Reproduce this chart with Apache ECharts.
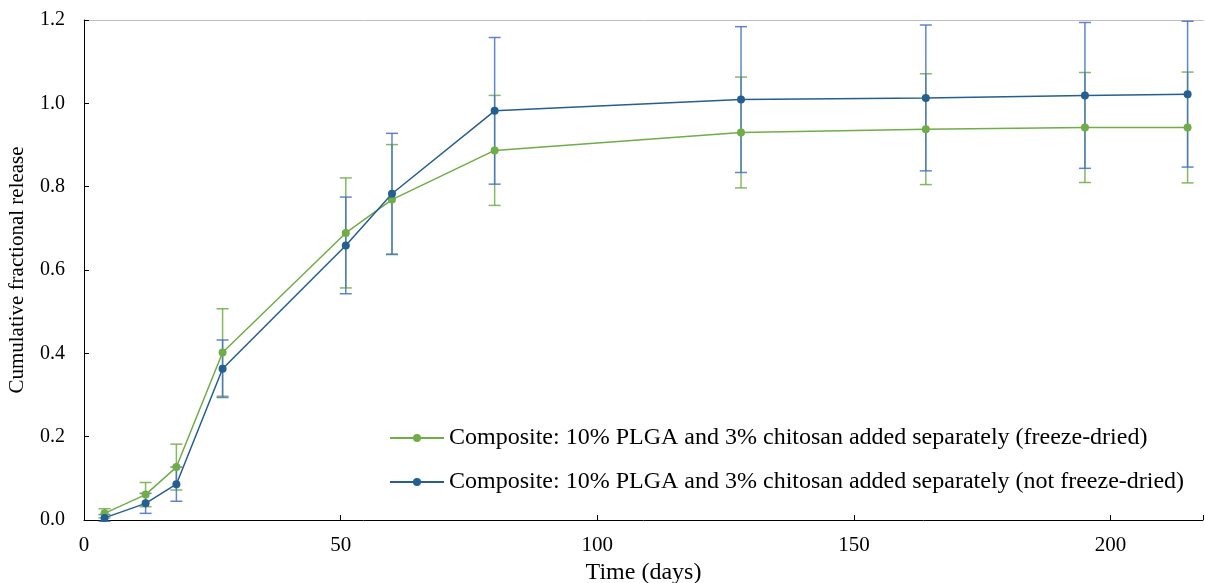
<!DOCTYPE html>
<html>
<head>
<meta charset="utf-8">
<script src="https://cdn.jsdelivr.net/npm/echarts@6/dist/echarts.min.js"></script>
<style>
  html, body { margin: 0; padding: 0; background: #fff; }
  #chart { width: 1205px; height: 583px; }
</style>
</head>
<body>
<div id="chart"></div>
<script>
// days of sampling
const days = [4, 12, 18, 27, 51, 60, 80, 128, 164, 195, 215];
// freeze-dried composite
const freezeDried = [0.016, 0.061, 0.127, 0.402, 0.689, 0.769, 0.887, 0.930, 0.938, 0.942, 0.942];
const freezeDriedErr = [0.011, 0.029, 0.055, 0.105, 0.132, 0.132, 0.132, 0.133, 0.133, 0.132, 0.133];
// not freeze-dried composite
const notFreezeDried = [0.005, 0.040, 0.086, 0.363, 0.659, 0.783, 0.982, 1.009, 1.013, 1.019, 1.022];
const notFreezeDriedErr = [0.008, 0.024, 0.041, 0.069, 0.116, 0.145, 0.176, 0.175, 0.175, 0.175, 0.175];

const nameA = 'Composite: 10% PLGA and 3% chitosan added separately (freeze-dried)';
const nameB = 'Composite: 10% PLGA and 3% chitosan added separately (not freeze-dried)';

const font = 'Liberation Serif, Times New Roman, serif';

function errorSeries(mean, err, color) {
  return {
    type: 'custom',
    silent: true,
    z: 1,
    data: days.map((d, i) => [d, mean[i], err[i]]),
    encode: { x: 0, y: 1 },
    renderItem: function (params, api) {
      const x = api.value(0), m = api.value(1), e = api.value(2);
      const top = api.coord([x, m + e]);
      const bot = api.coord([x, m - e]);
      const w = 6;
      const style = { stroke: color, lineWidth: 1.5, opacity: 0.85 };
      return {
        type: 'group',
        children: [
          { type: 'line', shape: { x1: top[0], y1: top[1], x2: bot[0], y2: bot[1] }, style: style },
          { type: 'line', shape: { x1: top[0] - w, y1: top[1], x2: top[0] + w, y2: top[1] }, style: style },
          { type: 'line', shape: { x1: bot[0] - w, y1: bot[1], x2: bot[0] + w, y2: bot[1] }, style: style }
        ]
      };
    }
  };
}

const chart = echarts.init(document.getElementById('chart'));
chart.setOption({
  animation: false,
  textStyle: { fontFamily: font, color: '#000' },
  grid: { left: 84, top: 20, right: 2, bottom: 63, outerBoundsMode: 'none', containLabel: false },
  legend: {
    data: [nameA, nameB],
    orient: 'vertical',
    left: 384,
    top: 421,
    itemWidth: 54,
    itemHeight: 10,
    itemGap: 20,
    textStyle: { fontFamily: font, fontSize: 24, color: '#000' }
  },
  xAxis: [{
    type: 'value',
    min: 0,
    max: 218,
    interval: 50,
    name: 'Time (days)',
    nameLocation: 'middle',
    nameGap: 38,
    nameTextStyle: { fontFamily: font, fontSize: 24, color: '#000' },
    axisLine: { lineStyle: { color: '#000', width: 1 } },
    axisTick: { inside: true, length: 5, lineStyle: { color: '#000' } },
    axisLabel: {
      margin: 15, fontFamily: font, fontSize: 21, color: '#000',
      formatter: v => (v % 50 === 0 ? String(v) : '')
    },
    splitLine: { show: false }
  }, {
    type: 'value',
    position: 'top',
    min: 0,
    max: 218,
    axisLine: { show: true, lineStyle: { color: '#bfbfbf', width: 1 } },
    axisTick: { show: false },
    axisLabel: { show: false },
    splitLine: { show: false }
  }],
  yAxis: {
    type: 'value',
    min: 0,
    max: 1.2,
    interval: 0.2,
    name: 'Cumulative fractional release',
    nameLocation: 'middle',
    nameGap: 56,
    nameTextStyle: { fontFamily: font, fontSize: 21, color: '#000' },
    axisLine: { show: true, lineStyle: { color: '#000', width: 1 } },
    axisTick: { show: true, inside: true, length: 5, lineStyle: { color: '#000' } },
    axisLabel: {
      margin: 19, fontFamily: font, fontSize: 20, color: '#000',
      formatter: v => v.toFixed(1)
    },
    splitLine: { show: false }
  },
  series: [
    errorSeries(freezeDried, freezeDriedErr, '#70AD47'),
    errorSeries(notFreezeDried, notFreezeDriedErr, '#4472C4'),
    {
      name: nameA,
      type: 'line',
      z: 3,
      data: days.map((d, i) => [d, freezeDried[i]]),
      symbol: 'circle',
      symbolSize: 8,
      lineStyle: { color: '#70AD47', width: 1.5 },
      itemStyle: { color: '#70AD47' }
    },
    {
      name: nameB,
      type: 'line',
      z: 4,
      data: days.map((d, i) => [d, notFreezeDried[i]]),
      symbol: 'circle',
      symbolSize: 8,
      lineStyle: { color: '#255E91', width: 1.5 },
      itemStyle: { color: '#255E91' }
    }
  ]
});
</script>
</body>
</html>
